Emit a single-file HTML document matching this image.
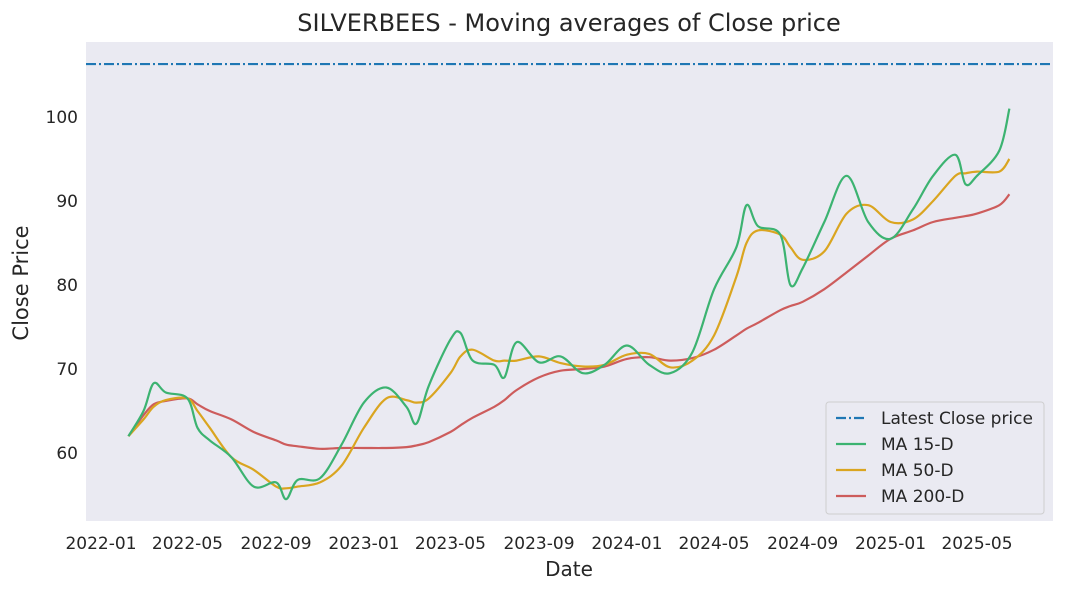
<!DOCTYPE html>
<html><head><meta charset="utf-8"><style>
body{margin:0;background:#fff;font-family:"Liberation Sans","DejaVu Sans",sans-serif}
text{font-family:"DejaVu Sans","Liberation Sans",sans-serif;fill:#262626}
</style></head><body>
<svg id="c" width="1065" height="592">
<rect x="86" y="42" width="967" height="479" fill="#eaeaf2"/>
<text x="569" y="31" text-anchor="middle" font-size="24">SILVERBEES - Moving averages of Close price</text>
<text x="569" y="576" text-anchor="middle" font-size="20">Date</text>
<text x="28" y="283" text-anchor="middle" font-size="21" transform="rotate(-90 28 283)">Close Price</text>
<g id="ticks"></g><g id="lines"></g>
<g>
<rect x="826" y="402" width="218" height="112" rx="3" fill="#eaeaf2" stroke="#cccccc" opacity="0.9"/>
<line x1="836" y1="418" x2="866" y2="418" stroke="#1f77b4" stroke-width="2.2" stroke-dasharray="10,3,2,3"/>
<text x="881" y="424" font-size="17">Latest Close price</text>
<line x1="836" y1="444" x2="866" y2="444" stroke="#3cb371" stroke-width="2.2"/>
<text x="881" y="450" font-size="17">MA 15-D</text>
<line x1="836" y1="470" x2="866" y2="470" stroke="#daa520" stroke-width="2.2"/>
<text x="881" y="476" font-size="17">MA 50-D</text>
<line x1="836" y1="496" x2="866" y2="496" stroke="#cd5c5c" stroke-width="2.2"/>
<text x="881" y="502" font-size="17">MA 200-D</text>
</g>
</svg>
<script>
const dates=["2022-02-08","2022-03-01","2022-03-15","2022-04-01","2022-05-01","2022-05-15","2022-06-01","2022-07-01","2022-08-01","2022-09-01","2022-09-15","2022-10-01","2022-11-01","2022-12-01","2023-01-01","2023-02-01","2023-03-01","2023-03-15","2023-04-01","2023-05-01","2023-05-15","2023-06-01","2023-07-01","2023-07-15","2023-08-01","2023-09-01","2023-10-01","2023-11-01","2023-12-01","2024-01-01","2024-02-01","2024-03-01","2024-04-01","2024-05-01","2024-06-01","2024-06-15","2024-07-01","2024-08-01","2024-08-15","2024-09-01","2024-10-01","2024-11-01","2024-12-01","2025-01-01","2025-02-01","2025-03-01","2025-04-01","2025-04-15","2025-05-01","2025-06-01","2025-06-15"];
const ma15=[62,65,68.3,67.2,66.5,63,61.5,59.5,56,56.5,54.5,56.8,57,61,66,67.8,65.5,63.5,68,73.5,74.3,71,70.5,69,73.2,70.8,71.5,69.5,70.5,72.8,70.5,69.5,72,79.5,84.5,89.5,87,86,80,82,87.5,93,87.5,85.5,89,93,95.5,92,93,96,101];
const ma50=[62,64,65.5,66.3,66.5,65,63,59.5,58,56,55.8,56,56.5,58.5,63,66.5,66.3,66,66.5,69.5,71.5,72.3,71,71,71,71.5,70.7,70.3,70.5,71.7,71.8,70.2,71,74,81,85,86.5,86,84.5,83,84,88.5,89.5,87.5,87.8,90,93,93.3,93.5,93.5,95];
const ma200=[62,64.5,65.8,66.2,66.5,65.8,65,64,62.5,61.5,61,60.8,60.5,60.6,60.6,60.6,60.7,60.9,61.3,62.5,63.3,64.2,65.5,66.3,67.5,69,69.8,70,70.3,71.2,71.4,71,71.3,72.3,74,74.8,75.5,77,77.5,78,79.5,81.5,83.5,85.5,86.5,87.5,88,88.2,88.5,89.5,90.8];
const latest=106.3;
const yTicks=[60,70,80,90,100];
const xTicks=["2022-01","2022-05","2022-09","2023-01","2023-05","2023-09","2024-01","2024-05","2024-09","2025-01","2025-05"];
const t0=Date.UTC(2022,0,1),pxPerDay=876/(Date.UTC(2025,4,1)-t0)*86400000;
function X(d){const p=d.split('-');return 101+(Date.UTC(+p[0],+p[1]-1,+(p[2]||1))-t0)/86400000*pxPerDay;}
function Y(v){return 453-(v-60)*8.4;}
const NS="http://www.w3.org/2000/svg",tk=document.getElementById('ticks'),ln=document.getElementById('lines');
yTicks.forEach(v=>{const t=document.createElementNS(NS,'text');


t.setAttribute('x',78);t.setAttribute('y',Y(v)+6);t.setAttribute('text-anchor','end');t.setAttribute('font-size','17');t.textContent=v;tk.appendChild(t);});
xTicks.forEach(d=>{const t=document.createElementNS(NS,'text');


t.setAttribute('x',X(d));t.setAttribute('y',549);t.setAttribute('text-anchor','middle');t.setAttribute('font-size','17');t.textContent=d;tk.appendChild(t);});
const hl=document.createElementNS(NS,'line');


hl.setAttribute('x1',86);hl.setAttribute('x2',1053);hl.setAttribute('y1',Y(latest));hl.setAttribute('y2',Y(latest));hl.setAttribute('stroke','#1f77b4');hl.setAttribute('stroke-width',2.2);hl.setAttribute('stroke-dasharray','10,3,2,3');ln.appendChild(hl);
function series(vals,color,name){
const pts=vals.map((v,i)=>[X(dates[i]),Y(v)]);
let d='M'+pts[0][0].toFixed(1)+','+pts[0][1].toFixed(1);
for(let i=0;i<pts.length-1;i++){const p0=pts[Math.max(0,i-1)],p1=pts[i],p2=pts[i+1],p3=pts[Math.min(pts.length-1,i+2)];
const c1=[p1[0]+(p2[0]-p0[0])/6,p1[1]+(p2[1]-p0[1])/6],c2=[p2[0]-(p3[0]-p1[0])/6,p2[1]-(p3[1]-p1[1])/6];
d+=' C'+c1.map(n=>n.toFixed(1))+' '+c2.map(n=>n.toFixed(1))+' '+p2.map(n=>n.toFixed(1));}
const p=document.createElementNS(NS,'path');


p.setAttribute('d',d);
p.setAttribute('fill','none');p.setAttribute('stroke',color);p.setAttribute('stroke-width',2.2);p.setAttribute('stroke-linejoin','round');ln.appendChild(p);}
series(ma200,'#cd5c5c','ma200-line');
series(ma50,'#daa520','ma50-line');
series(ma15,'#3cb371','ma15-line');
</script>
</body></html>
